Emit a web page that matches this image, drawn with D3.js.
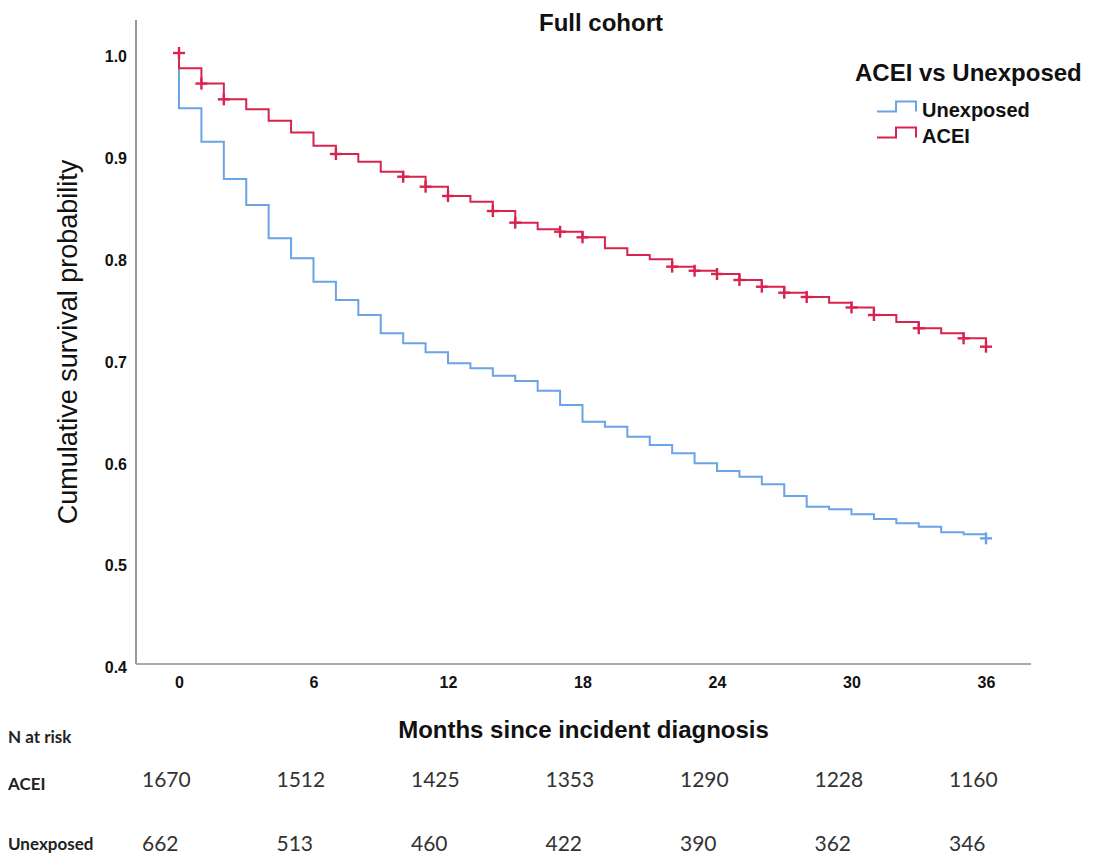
<!DOCTYPE html>
<html>
<head>
<meta charset="utf-8">
<script src="https://cdn.jsdelivr.net/npm/d3@7"></script>
<style>
  body { margin: 0; background: #fff; }
  svg { display: block; }
</style>
</head>
<body>
<div id="viz"></div>
<script>
// months since incident diagnosis (one step per month)
var months = [0,1,2,3,4,5,6,7,8,9,10,11,12,13,14,15,16,17,18,19,20,21,22,23,24,25,26,27,28,29,30,31,32,33,34,35,36];

// survival level in effect from each month onward
var survACEI = [0.985,0.970,0.9545,0.9447,0.9335,0.922,0.909,0.9008,0.8933,0.8834,
  0.8785,0.8687,0.8596,0.854,0.8448,0.8334,0.8269,0.8245,0.819,0.8082,
  0.8016,0.7974,0.7902,0.7862,0.783,0.7771,0.7705,0.7646,0.7604,0.7548,
  0.7501,0.7427,0.7358,0.7297,0.7247,0.7198,0.7116];
var survUnexposed = [0.9457,0.9129,0.8763,0.8507,0.818,0.7984,0.7754,0.7574,0.7427,0.7247,
  0.7149,0.7061,0.6953,0.6904,0.6831,0.6779,0.6684,0.6543,0.6379,0.633,
  0.6232,0.6151,0.6069,0.5971,0.5895,0.5839,0.5765,0.565,0.5545,0.5519,
  0.547,0.5424,0.5382,0.5348,0.5293,0.5274,0.5234];

// censoring marks (months)
var censorACEI = [0,1,2,7,10,11,12,14,15,17,18,22,23,24,25,26,27,28,30,31,33,35,36];
var censorUnexposed = [36];

var xTicks = [0,6,12,18,24,30,36];
var yTicks = [0.4,0.5,0.6,0.7,0.8,0.9,1.0];

// number at risk table
var riskMonths = [0,6,12,18,24,30,36];
var riskACEI = [1670,1512,1425,1353,1290,1228,1160];
var riskUnexposed = [662,513,460,422,390,362,346];

var groups = ["Unexposed", "ACEI"];
var colors = { "Unexposed": "#6aa3e6", "ACEI": "#d9234f" };

var width = 1099,
    height = 857;

var plot = { left: 136, right: 1031, top: 20, bottom: 664 };

var svg = d3.select("#viz").append("svg")
    .attr("width", width)
    .attr("height", height);

svg.append("rect").attr("width", width).attr("height", height).attr("fill", "#fff");

var x = d3.scaleLinear().domain([0, 36]).range([plot.left + 43, plot.right - 45]);
var y = d3.scaleLinear().domain([0.4, 1.0]).range([plot.bottom, 53]);

// axes frame
svg.append("line")
    .attr("x1", plot.left).attr("x2", plot.left)
    .attr("y1", plot.top).attr("y2", plot.bottom)
    .attr("stroke", "#999").attr("stroke-width", 2);
svg.append("line")
    .attr("x1", plot.left).attr("x2", plot.right)
    .attr("y1", plot.bottom).attr("y2", plot.bottom)
    .attr("stroke", "#aaa").attr("stroke-width", 2);

var yAxis = svg.append("g")
    .attr("transform", "translate(" + plot.left + ",0)")
    .call(d3.axisLeft(y).tickValues(yTicks).tickSize(0).tickPadding(9).tickFormat(d3.format(".1f")));
yAxis.select(".domain").remove();
yAxis.selectAll("text")
    .attr("dy", "0.55em")
    .style("font-family", "'Liberation Sans', Arial, sans-serif")
    .style("font-weight", "bold")
    .style("font-size", "16px")
    .attr("fill", "#111");

var xAxis = svg.append("g")
    .attr("transform", "translate(0," + plot.bottom + ")")
    .call(d3.axisBottom(x).tickValues(xTicks).tickSize(0).tickPadding(13));
xAxis.select(".domain").remove();
xAxis.selectAll("text")
    .style("font-family", "'Liberation Sans', Arial, sans-serif")
    .style("font-weight", "bold")
    .style("font-size", "16px")
    .attr("fill", "#111");

// titles
svg.append("text")
    .attr("x", 601).attr("y", 31)
    .attr("text-anchor", "middle")
    .style("font-family", "'Liberation Sans', Arial, sans-serif")
    .style("font-weight", "bold").style("font-size", "24px")
    .attr("fill", "#111")
    .text("Full cohort");

svg.append("text")
    .attr("transform", "translate(77," + ((plot.top + plot.bottom) / 2) + ") rotate(-90)")
    .attr("text-anchor", "middle")
    .style("font-family", "'Liberation Sans', Arial, sans-serif")
    .style("font-size", "27px")
    .attr("fill", "#111")
    .text("Cumulative survival probability");

svg.append("text")
    .attr("x", (plot.left + plot.right) / 2).attr("y", 738)
    .attr("text-anchor", "middle")
    .style("font-family", "'Liberation Sans', Arial, sans-serif")
    .style("font-weight", "bold").style("font-size", "24px")
    .attr("fill", "#111")
    .text("Months since incident diagnosis");

// survival curves
var line = d3.line()
    .x(function(d) { return x(d[0]); })
    .y(function(d) { return y(d[1]); })
    .curve(d3.curveStepAfter);

function curvePoints(surv) {
  var pts = [[0, 1.0]];
  months.forEach(function(m, i) { pts.push([m, surv[i]]); });
  return pts;
}

var series = [
  { name: "Unexposed", surv: survUnexposed, censor: censorUnexposed },
  { name: "ACEI", surv: survACEI, censor: censorACEI }
];

series.forEach(function(s) {
  svg.append("path")
      .datum(curvePoints(s.surv))
      .attr("fill", "none")
      .attr("stroke", colors[s.name])
      .attr("stroke-width", 2)
      .attr("d", line);

  var marks = svg.append("g").selectAll("g")
      .data(s.censor)
    .enter().append("g")
      .attr("transform", function(t) {
        var v = t === 0 ? 1.0 : s.surv[months.indexOf(t)];
        return "translate(" + x(t) + "," + y(v) + ")";
      });
  marks.append("line").attr("x1", -6).attr("x2", 6)
      .attr("stroke", colors[s.name]).attr("stroke-width", 2.4);
  marks.append("line").attr("y1", -6).attr("y2", 6)
      .attr("stroke", colors[s.name]).attr("stroke-width", 2.4);
});

// legend
var legend = svg.append("g");
legend.append("text")
    .attr("x", 855).attr("y", 81)
    .style("font-family", "'Liberation Sans', Arial, sans-serif")
    .style("font-weight", "bold").style("font-size", "24px")
    .attr("fill", "#111")
    .text("ACEI vs Unexposed");

var icon = d3.line();
groups.forEach(function(g, i) {
  var row = legend.append("g").attr("transform", "translate(877," + (111.5 + i * 26) + ")");
  row.append("path")
      .attr("d", icon([[0, 0], [19, 0], [19, -10], [39, -10], [39, 0]]))
      .attr("fill", "none")
      .attr("stroke", colors[g])
      .attr("stroke-width", 2);
  row.append("text")
      .attr("x", 45).attr("y", 5.5)
      .style("font-family", "'Liberation Sans', Arial, sans-serif")
      .style("font-weight", "bold").style("font-size", "20px")
      .attr("fill", "#111")
      .text(g);
});

// number at risk
var risk = svg.append("g").style("font-family", "Lato, 'Open Sans', sans-serif");
risk.append("text")
    .attr("x", 8).attr("y", 743)
    .style("font-weight", "bold").style("font-size", "17px")
    .attr("fill", "#222")
    .text("N at risk");

var riskRows = [
  { name: "ACEI", values: riskACEI, y: 787, labelY: 790 },
  { name: "Unexposed", values: riskUnexposed, y: 851, labelY: 850 }
];

riskRows.forEach(function(r) {
  risk.append("text")
      .attr("x", 8).attr("y", r.labelY)
      .style("font-weight", "bold").style("font-size", "17px")
      .attr("fill", "#222")
      .text(r.name);
  risk.selectAll(null)
      .data(r.values)
    .enter().append("text")
      .attr("x", function(d, i) { return x(riskMonths[i]) - 37; })
      .attr("y", r.y)
      .style("font-size", "21px")
      .attr("fill", "#333")
      .text(function(d) { return d; });
});
</script>
</body>
</html>
